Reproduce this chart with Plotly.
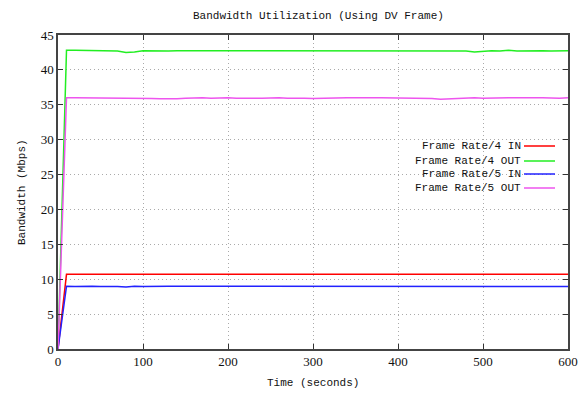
import plotly.graph_objects as go

time_s = [0, 10, 20, 30, 40, 50, 60, 70, 80, 90,
          100, 110, 120, 130, 140, 150, 160, 170, 180, 190,
          200, 210, 220, 230, 240, 250, 260, 270, 280, 290,
          300, 310, 320, 330, 340, 350, 360, 370, 380, 390,
          400, 410, 420, 430, 440, 450, 460, 470, 480, 490,
          500, 510, 520, 530, 540, 550, 560, 570, 580, 590,
          600]

fr4_in = [0, 10.7, 10.7, 10.7, 10.7, 10.65, 10.7, 10.7, 10.65, 10.65,
          10.7, 10.7, 10.7, 10.65, 10.7, 10.7, 10.7, 10.65, 10.7, 10.7,
          10.7, 10.65, 10.7, 10.7, 10.7, 10.7, 10.65, 10.7, 10.7, 10.7,
          10.7, 10.7, 10.65, 10.7, 10.7, 10.7, 10.7, 10.65, 10.7, 10.7,
          10.7, 10.7, 10.65, 10.7, 10.7, 10.7, 10.65, 10.7, 10.7, 10.7,
          10.7, 10.7, 10.7, 10.65, 10.7, 10.7, 10.7, 10.7, 10.7, 10.7,
          10.7]

fr4_out = [0, 42.8, 42.8, 42.8, 42.8, 42.8, 42.75, 42.7, 42.5, 42.55,
           42.75, 42.7, 42.75, 42.7, 42.75, 42.75, 42.7, 42.75, 42.75, 42.7,
           42.75, 42.7, 42.7, 42.75, 42.8, 42.75, 42.7, 42.75, 42.75, 42.8,
           42.75, 42.75, 42.7, 42.7, 42.75, 42.75, 42.7, 42.75, 42.7, 42.75,
           42.75, 42.7, 42.75, 42.7, 42.75, 42.75, 42.7, 42.75, 42.7, 42.55,
           42.7, 42.75, 42.7, 42.8, 42.7, 42.75, 42.75, 42.75, 42.7, 42.75,
           42.75]

fr5_in = [0, 9.0, 8.95, 9.0, 9.0, 8.95, 9.0, 8.95, 8.9, 9.0,
          8.95, 9.0, 8.95, 9.0, 9.0, 8.95, 9.0, 9.0, 8.95, 9.0,
          9.0, 9.0, 8.95, 9.0, 8.95, 9.0, 9.0, 8.95, 9.0, 8.95,
          9.0, 9.0, 8.95, 9.0, 8.95, 9.0, 9.0, 8.95, 9.0, 9.0,
          8.95, 9.0, 8.95, 9.0, 9.0, 8.95, 9.0, 9.0, 8.95, 9.0,
          8.95, 9.0, 9.0, 8.95, 9.0, 8.95, 9.0, 9.0, 8.95, 9.0,
          8.95]

fr5_out = [0, 36.0, 36.0, 36.0, 35.95, 36.0, 36.0, 35.95, 35.9, 35.95,
           35.95, 35.9, 35.85, 35.8, 35.85, 35.95, 36.0, 36.0, 35.95, 36.0,
           36.0, 35.95, 36.0, 35.95, 35.95, 36.0, 36.0, 35.95, 36.0, 35.95,
           35.9, 35.95, 36.0, 35.95, 36.0, 36.0, 35.95, 36.0, 36.0, 36.0,
           36.0, 35.95, 35.95, 36.0, 35.9, 35.8, 35.85, 35.95, 36.0, 36.0,
           35.95, 36.0, 35.95, 36.0, 36.0, 35.95, 36.0, 36.0, 35.95, 35.95,
           36.0]

series_names = ["Frame Rate/4 IN", "Frame Rate/4 OUT", "Frame Rate/5 IN", "Frame Rate/5 OUT"]
series_values = [fr4_in, fr4_out, fr5_in, fr5_out]
series_colors = ["#ff0000", "#22ee22", "#2222ff", "#ee55ee"]

x_ticks = [0, 100, 200, 300, 400, 500, 600]
y_ticks = [0, 5, 10, 15, 20, 25, 30, 35, 40, 45]

FONT = "Liberation Mono"
TICKFONT = "Liberation Serif"

# page body has an 8px margin; work in figure coordinates = screen - 8
OFF = 8
W, H = 587 - OFF, 393 - OFF
L, R, T, B = 58 - OFF, 568 - OFF, 35 - OFF, 349 - OFF


def px_x(sx):
    return (sx - OFF - L) / (R - L)


def px_y(sy):
    return (B - (sy - OFF)) / (B - T)


fig = go.Figure()
for name, vals, col in zip(series_names, series_values, series_colors):
    fig.add_trace(go.Scatter(x=time_s, y=vals, mode="lines", name=name,
                             line=dict(color=col, width=1.5), showlegend=False))

# gnuplot-style key: text right-aligned, line sample to the right
leg_y = [146, 161, 174, 188]
shapes = []
annotations = []
for name, col, yp in zip(series_names, series_colors, leg_y):
    yf = px_y(yp)
    xl = px_x(524)
    xr = px_x(555)
    shapes.append(dict(type="line", xref="paper", yref="paper", x0=xl, x1=xr, y0=yf, y1=yf,
                       line=dict(color=col, width=1.5)))
    annotations.append(dict(xref="paper", yref="paper", x=xl, y=yf, text=name, showarrow=False,
                            xanchor="right", yanchor="middle", xshift=-1,
                            font=dict(family=FONT, size=11, color="#111")))

annotations.append(dict(xref="paper", yref="paper", x=px_x(318), y=px_y(16),
                        text="Bandwidth Utilization (Using DV Frame)", showarrow=False,
                        xanchor="center", yanchor="middle", font=dict(family=FONT, size=11, color="#111")))
annotations.append(dict(xref="paper", yref="paper", x=px_x(313), y=px_y(383),
                        text="Time (seconds)", showarrow=False,
                        xanchor="center", yanchor="middle", font=dict(family=FONT, size=11, color="#111")))
annotations.append(dict(xref="paper", yref="paper", x=px_x(22), y=px_y(192),
                        text="Bandwidth (Mbps)", showarrow=False, textangle=-90,
                        xanchor="center", yanchor="middle", font=dict(family=FONT, size=11, color="#111")))

axis_common = dict(ticks="inside", ticklen=5, tickcolor="#333",
                   showline=True, linecolor="#444", linewidth=1.5, mirror="ticks",
                   showgrid=True, gridcolor="#aaa", griddash="1px,3px", gridwidth=1, zeroline=False,
                   tickfont=dict(family=TICKFONT, size=13, color="#111"), automargin=False)

fig.update_layout(
    width=W, height=H,
    margin=dict(l=L, r=W - R, t=T, b=H - B, autoexpand=False),
    paper_bgcolor="white", plot_bgcolor="white",
    shapes=shapes, annotations=annotations,
    xaxis=dict(range=[0, 600], tickvals=x_ticks, **axis_common),
    yaxis=dict(range=[0, 45], tickvals=y_ticks, **axis_common),
)

fig.write_html("out.html")
